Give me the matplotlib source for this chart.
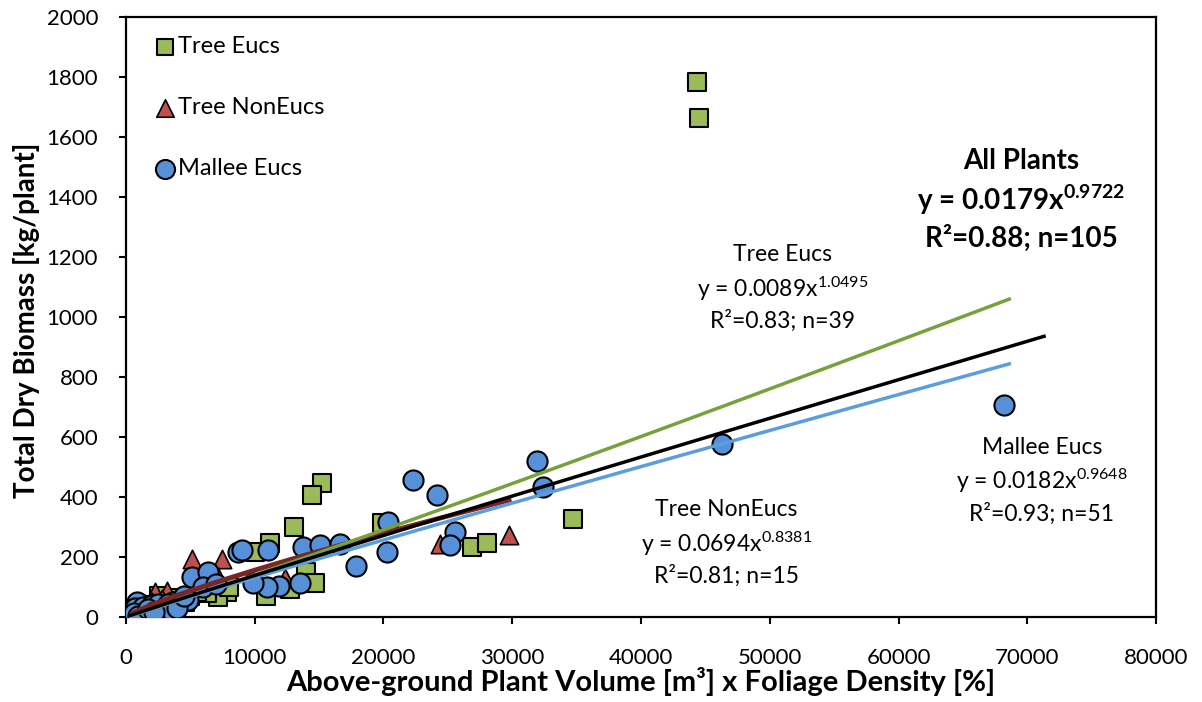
import numpy as np
import matplotlib
matplotlib.use('Agg')
import matplotlib.pyplot as plt

plt.rcParams['font.family'] = ['Lato', 'DejaVu Sans']
plt.rcParams['mathtext.default'] = 'regular'

# Tree Eucs (green squares)
tree_eucs_x = [44350, 44500, 15200, 14420, 13050, 11180, 10020, 14000, 14680, 12740,
               10850, 7820, 7160, 6270, 3930, 34750, 26900, 28020, 19900, 8000,
               3300, 2800, 3600, 2400, 1800, 1200, 900, 600, 4200, 3000,
               2000, 1500, 5000, 5500, 4600, 400, 2600, 3800, 800]
tree_eucs_y = [1783, 1663, 446, 407, 301, 246, 218, 151, 115, 93,
               70, 84, 68, 80, 40, 327, 234, 248, 313, 100,
               45, 30, 60, 40, 25, 20, 35, 10, 65, 55,
               15, 40, 70, 85, 50, 18, 70, 30, 12]

# Tree NonEucs (red triangles)
tree_noneucs_x = [2250, 3160, 5100, 7480, 12350, 24390, 29750, 7150,
                  500, 800, 1200, 1500, 2000, 2800, 3500]
tree_noneucs_y = [84, 88, 192, 192, 129, 242, 273, 134,
                  15, 25, 30, 45, 50, 60, 55]

# Mallee Eucs (blue circles)
mallee_x = [68200, 46260, 31900, 32360, 22320, 24180, 20380, 20240, 25550, 25170,
            17900, 8720, 8990, 11050, 13720, 15070, 16620, 13510, 11910, 10930,
            9890, 5100, 6390, 4840, 3420, 2770, 1860, 1090, 310, 50,
            830, 3680, 3680, 2380, 500, 700, 1300, 1500, 2000, 2500,
            3000, 3300, 3500, 600, 900, 1700, 2200, 4000, 4500, 6000, 7000]
mallee_y = [705, 577, 521, 434, 457, 407, 318, 218, 284, 240,
            170, 218, 225, 223, 234, 240, 245, 112, 103, 99,
            112, 134, 151, 57, 34, 29, 23, 18, 23, 12,
            51, 51, 18, 12, 8, 30, 35, 10, 40, 45,
            20, 45, 25, 15, 5, 28, 18, 30, 70, 100, 110]

# power-law fits y = a * x^b, and the x range each trendline covers
fits = {
    'nonEucs': (0.0694, 0.8381, 500, 29750, '#7a2626', 3.5),
    'treeEucs': (0.0089, 1.0495, 500, 68600, '#77a13a', 2.5),
    'mallee': (0.0182, 0.9648, 300, 68600, '#5b9ee0', 2.5),
    'all': (0.0179, 0.9722, 300, 71300, 'black', 2.5),
}

fig = plt.figure(figsize=(12.02, 7.02), dpi=100)
ax = fig.add_axes([0.1048, 0.121, 0.857, 0.855])

ax.scatter(tree_eucs_x, tree_eucs_y, marker='s', s=150, c='#9bbb59',
           edgecolors='black', linewidths=1.5, label='Tree Eucs', zorder=3)
ax.scatter(tree_noneucs_x, tree_noneucs_y, marker='^', s=175, c='#c0504d',
           edgecolors='black', linewidths=1.2, label='Tree NonEucs', zorder=3)
ax.scatter(mallee_x, mallee_y, marker='o', s=210, c='#5590d8',
           edgecolors='black', linewidths=1.5, label='Mallee Eucs', zorder=3)

# trendlines
for key in ['nonEucs', 'treeEucs', 'mallee', 'all']:
    a, b, x0, x1, col, lw = fits[key]
    xs = np.linspace(x0, x1, 300)
    ax.plot(xs, a * xs ** b, color=col, lw=lw, zorder=4)

ax.set_xlim(0, 80000)
ax.set_ylim(0, 2000)
ax.set_xticks(np.arange(0, 80001, 10000))
ax.set_yticks(np.arange(0, 2001, 200))
ax.tick_params(axis='both', direction='out', length=5, width=1.5,
               labelsize=16)
ax.tick_params(axis='y', pad=15)
ax.tick_params(axis='x', pad=17)
for sp in ax.spines.values():
    sp.set_linewidth(1.6)

ax.set_xlabel('Above-ground Plant Volume [m³] x Foliage Density [%]',
              fontsize=21, fontweight='bold')
ax.set_ylabel('Total Dry Biomass [kg/plant]', fontsize=20, fontweight='bold')
ax.xaxis.label.set_va('baseline')
ax.yaxis.label.set_va('center')
ax.xaxis.set_label_coords(0.5, -0.124)
ax.yaxis.set_label_coords(-0.097, 0.495)

leg = ax.legend(loc='upper left', bbox_to_anchor=(0.0161, 0.984), frameon=False,
                fontsize=17, handletextpad=0.0, labelspacing=1.7,
                borderaxespad=0.0, borderpad=0.4, scatterpoints=1,
                markerscale=0.95, handlelength=1.1)

ax.text(0.869, 0.695, 'All Plants\ny = 0.0179x$^{0.9722}$\nR²=0.88; n=105',
        transform=ax.transAxes, ha='center', va='center', fontsize=20,
        fontweight='bold', linespacing=1.35)
ax.text(0.637, 0.548, 'Tree Eucs\ny = 0.0089x$^{1.0495}$\nR²=0.83; n=39',
        transform=ax.transAxes, ha='center', va='center', fontsize=16.5,
        linespacing=1.4)
ax.text(0.583, 0.123, 'Tree NonEucs\ny = 0.0694x$^{0.8381}$\nR²=0.81; n=15',
        transform=ax.transAxes, ha='center', va='center', fontsize=16.5,
        linespacing=1.4)
ax.text(0.889, 0.2267, 'Mallee Eucs\ny = 0.0182x$^{0.9648}$\nR²=0.93; n=51',
        transform=ax.transAxes, ha='center', va='center', fontsize=16.5,
        linespacing=1.4)

fig.savefig('out.png', dpi=100)
